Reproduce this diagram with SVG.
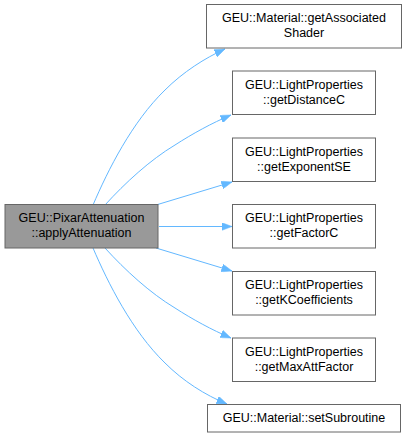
<svg xmlns="http://www.w3.org/2000/svg" width="406" height="437" viewBox="0 0 406 437">
<style>
.n rect{fill:#ffffff;stroke:#666666;stroke-width:1}
.m rect{fill:#999999;stroke:#666666;stroke-width:1}
text{font-family:"Liberation Sans",Arial,sans-serif;font-size:12.5px;fill:#000000;text-anchor:middle}
.e path{fill:none;stroke:#63b8ff;stroke-width:1;marker-end:url(#a)}
</style>
<defs>
<marker id="a" markerUnits="userSpaceOnUse" markerWidth="11" markerHeight="8" refX="10.5" refY="4" orient="auto">
<path d="M0,0 L10.5,4 L0,8 z" fill="#63b8ff" stroke="#63b8ff" stroke-width="0.5"/>
</marker>
</defs>
<g id="edges" class="e">
<path d="M93,205 C108,170 132,122 165,90 C183,72 205,58 225,49"/>
<path d="M105,205 C125,183 150,160 175,145 C192,134 212,123 231,115"/>
<path d="M156,205 L232,182"/>
<path d="M159,226.5 L232,226.5"/>
<path d="M156,248 L232,271"/>
<path d="M105,248 C125,270 150,293 175,308 C192,319 212,330 231,338"/>
<path d="M93,248 C108,283 132,331 165,363 C183,381 205,395 227,404"/>
</g>
<g id="main" class="m">
<rect x="5" y="204.5" width="153" height="43.5"/>
<text x="81.5" y="222">GEU::PixarAttenuation</text>
<text x="81.5" y="237">::applyAttenuation</text>
</g>
<g id="n1" class="n">
<rect x="206.5" y="4.5" width="195" height="43.5"/>
<text x="304" y="22">GEU::Material::getAssociated</text>
<text x="304" y="37">Shader</text>
</g>
<g id="n2" class="n">
<rect x="232.5" y="71" width="143" height="43.5"/>
<text x="304" y="89">GEU::LightProperties</text>
<text x="304" y="104">::getDistanceC</text>
</g>
<g id="n3" class="n">
<rect x="232.5" y="138" width="143" height="43.5"/>
<text x="304" y="156">GEU::LightProperties</text>
<text x="304" y="171">::getExponentSE</text>
</g>
<g id="n4" class="n">
<rect x="232.5" y="204.5" width="143" height="43.5"/>
<text x="304" y="222">GEU::LightProperties</text>
<text x="304" y="237">::getFactorC</text>
</g>
<g id="n5" class="n">
<rect x="232.5" y="271.5" width="143" height="43.5"/>
<text x="304" y="289">GEU::LightProperties</text>
<text x="304" y="304">::getKCoefficients</text>
</g>
<g id="n6" class="n">
<rect x="232.5" y="338" width="143" height="43.5"/>
<text x="304" y="356">GEU::LightProperties</text>
<text x="304" y="371">::getMaxAttFactor</text>
</g>
<g id="n7" class="n">
<rect x="207.5" y="404.5" width="193" height="27.5"/>
<text x="304" y="422">GEU::Material::setSubroutine</text>
</g>
</svg>
